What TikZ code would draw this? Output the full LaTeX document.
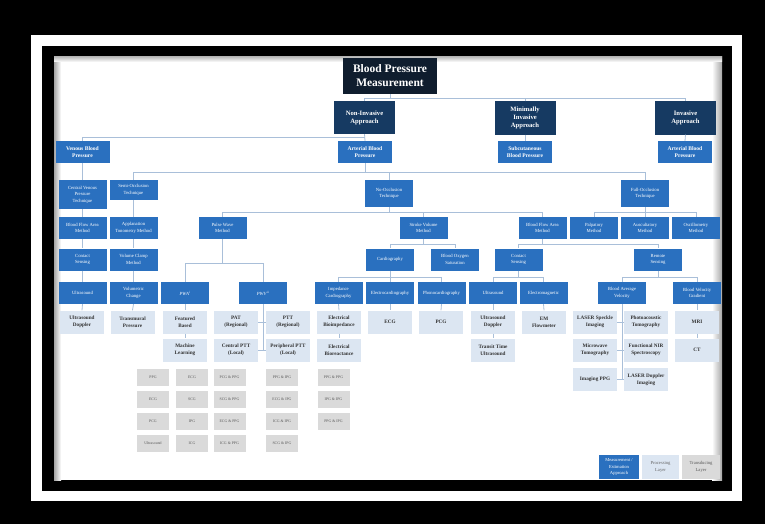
\documentclass[tikz,border=0pt]{standalone}
\usepackage{fontspec}
\setmainfont{Liberation Serif}
\definecolor{navy}{HTML}{163A62}
\definecolor{darknavy}{HTML}{0F1D2E}
\definecolor{midblue}{HTML}{2A70BF}
\definecolor{paleblue}{HTML}{DCE6F2}
\definecolor{palegray}{HTML}{DADADA}
\definecolor{linecol}{HTML}{A9BFD9}
\begin{document}
\begin{tikzpicture}[x=1pt,y=-1pt,
  titlebox/.style={fill=darknavy,text=white,align=center,inner sep=0pt,
    minimum width=94pt,minimum height=36pt,font=\bfseries\fontsize{11.5}{14}\selectfont},
  appbox/.style={fill=navy,text=white,align=center,inner sep=0pt,
    minimum width=61pt,minimum height=33pt,font=\bfseries\fontsize{6.6}{8}\selectfont},
  bpbox/.style={fill=midblue,text=white,align=center,inner sep=0pt,
    minimum width=54pt,minimum height=22pt,font=\bfseries\fontsize{5.6}{7}\selectfont},
  box/.style={fill=midblue,text=white,align=center,inner sep=0pt,
    minimum width=48pt,minimum height=22pt,font=\fontsize{4.7}{6.6}\selectfont},
  tallbox/.style={box,minimum height=29pt},
  procbox/.style={fill=paleblue,text=black!80,align=center,inner sep=0pt,
    minimum width=44pt,minimum height=23pt,font=\bfseries\fontsize{5.2}{6.8}\selectfont},
  transbox/.style={fill=palegray,text=black!65,align=center,inner sep=0pt,
    minimum width=32pt,minimum height=17pt,font=\fontsize{3.9}{5}\selectfont},
  ln/.style={draw=linecol,line width=0.8pt}]
% frame
\fill[black] (0,0) rectangle (765,524);
\fill[white] (31,35) rectangle (742,501);
\fill[black] (42,46) rectangle (732,491);
\fill[white] (54,57) rectangle (722,480);
\shade[left color=black!35,right color=white] (54,57) rectangle (61,480);
\shade[left color=white,right color=black!35] (712,57) rectangle (722,480);
\shade[top color=black!25,bottom color=white] (54,57) rectangle (722,62);

% title and approaches
\node[titlebox] (bpm) at (390,76) {Blood Pressure\\Measurement};
\node[appbox] (nia) at (364.5,117.5) {Non-Invasive\\Approach};
\node[appbox] (mia) at (525,118) {Minimally\\Invasive\\Approach};
\node[appbox] (ia) at (685.5,118) {Invasive\\Approach};

% blood pressure kinds
\node[bpbox] (vbp) at (82.5,152) {Venous Blood\\Pressure};
\node[bpbox] (abp) at (365,152) {Arterial Blood\\Pressure};
\node[bpbox] (sbp) at (525,152) {Subcutaneous\\Blood Pressure};
\node[bpbox] (abp2) at (685,152) {Arterial Blood\\Pressure};

% techniques
\node[tallbox] (cvp) at (82.5,194.5) {Central Venous\\Pressure\\Technique};
\node[box,minimum height=20pt] (soc) at (133.5,190) {Semi-Occlusion\\Technique};
\node[box,minimum height=27pt] (noc) at (389,193.5) {No-Occlusion\\Technique};
\node[box,minimum height=27pt] (foc) at (645,193.5) {Full-Occlusion\\Technique};

% methods
\node[box] (bfa) at (82.5,228) {Blood Flow Area\\Method};
\node[box] (atm) at (133.5,228) {Applanation\\Tonometry Method};
\node[box] (pwm) at (222.5,228) {Pulse Wave\\Method};
\node[box] (svm) at (423.5,228) {Stroke Volume\\Method};
\node[box] (bfa2) at (542.5,228) {Blood Flow Area\\Method};
\node[box] (pal) at (594,228) {Palpatory\\Method};
\node[box] (aus) at (645,228) {Auscultatory\\Method};
\node[box] (osc) at (696,228) {Oscillometry\\Method};

% sensing
\node[box] (cs) at (82.5,259.5) {Contact\\Sensing};
\node[box] (vcm) at (133.5,259.5) {Volume Clamp\\Method};
\node[box] (car) at (390,259.5) {Cardiography};
\node[box] (bos) at (455,259.5) {Blood Oxygen\\Saturation};
\node[box] (cs2) at (518.5,259.5) {Contact\\Sensing};
\node[box] (rs) at (658,259.5) {Remote\\Sensing};

% measured quantity
\node[box] (us) at (82.5,293) {Ultrasound};
\node[box] (vch) at (133.5,293) {Volumetric\\Change};
\node[box] (pwa) at (185,293) {\textit{PWA}\textsuperscript{i}};
\node[box] (pwv) at (263,293) {\textit{PWV}\textsuperscript{ii}};
\node[box] (icg) at (338.5,293) {Impedance\\Cardiography};
\node[box] (ecgr) at (390,293) {Electrocardiography};
\node[box] (pcgr) at (441.5,293) {Phonocardiography};
\node[box] (us2) at (493,293) {Ultrasound};
\node[box] (emg) at (543.5,293) {Electromagnetic};
\node[box] (bav) at (622,293) {Blood Average\\Velocity};
\node[box] (bvg) at (697,293) {Blood Velocity\\Gradient};

% processing layer
\node[procbox] (usd) at (82,322) {Ultrasound\\Doppler};
\node[procbox] (tmp) at (132.5,322) {Transmural\\Pressure};
\node[procbox] (fb) at (185,322) {Featured\\Based};
\node[procbox] (ml) at (185,350) {Machine\\Learning};
\node[procbox] (pat) at (236,322) {PAT\\(Regional)};
\node[procbox] (ptt) at (288,322) {PTT\\(Regional)};
\node[procbox] (cptt) at (236,350) {Central PTT\\(Local)};
\node[procbox] (pptt) at (288,350) {Peripheral PTT\\(Local)};
\node[procbox] (ebi) at (339,322) {Electrical\\Bioimpedance};
\node[procbox] (ebr) at (339,350) {Electrical\\Bioreactance};
\node[procbox] (ecg) at (390,322) {ECG};
\node[procbox] (pcg) at (441,322) {PCG};
\node[procbox] (usd2) at (493,322) {Ultrasound\\Doppler};
\node[procbox] (ttu) at (493,350) {Transit Time\\Ultrasound};
\node[procbox] (emf) at (544,322) {EM\\Flowmeter};
\node[procbox] (lsi) at (595,322) {LASER Speckle\\Imaging};
\node[procbox] (mwt) at (595,350) {Microwave\\Tomography};
\node[procbox] (ippg) at (595,379.5) {Imaging PPG};
\node[procbox] (pact) at (646,322) {Photoacoustic\\Tomography};
\node[procbox] (fnir) at (646,350) {Functional NIR\\Spectroscopy};
\node[procbox] (ldi) at (646,379.5) {LASER Doppler\\Imaging};
\node[procbox] (mri) at (697,322) {MRI};
\node[procbox] (ct) at (697,350) {CT};

% transducing layer
\node[transbox] (ta1) at (153,377.5) {PPG};
\node[transbox] (ta2) at (153,399.5) {ECG};
\node[transbox] (ta3) at (153,421.5) {PCG};
\node[transbox] (ta4) at (153,443) {Ultrasound};
\node[transbox] (tb1) at (192,377.5) {ECG};
\node[transbox] (tb2) at (192,399.5) {SCG};
\node[transbox] (tb3) at (192,421.5) {IPG};
\node[transbox] (tb4) at (192,443) {ICG};
\node[transbox] (tc1) at (229.5,377.5) {PCG \& PPG};
\node[transbox] (tc2) at (229.5,399.5) {SCG \& PPG};
\node[transbox] (tc3) at (229.5,421.5) {ECG \& PPG};
\node[transbox] (tc4) at (229.5,443) {ICG \& PPG};
\node[transbox] (td1) at (282,377.5) {PPG \& IPG};
\node[transbox] (td2) at (282,399.5) {ECG \& IPG};
\node[transbox] (td3) at (282,421.5) {ICG \& IPG};
\node[transbox] (td4) at (282,443) {SCG \& IPG};
\node[transbox] (te1) at (333.5,377.5) {PPG \& PPG};
\node[transbox] (te2) at (333.5,399.5) {IPG \& IPG};
\node[transbox] (te3) at (333.5,421.5) {PPG \& IPG};

% legend
\node[box,minimum width=40pt,minimum height=24pt,font=\fontsize{4.6}{6.4}\selectfont] (lgm) at (619,467) {Measurement /\\Estimation\\Approach};
\node[procbox,minimum width=37pt,minimum height=24pt,font=\fontsize{4.6}{6.4}\selectfont,text=black!60] (lgp) at (660.5,467) {Processing\\Layer};
\node[transbox,minimum width=38pt,minimum height=24pt,font=\fontsize{4.6}{6.4}\selectfont] (lgt) at (701,467) {Transducing\\Layer};

% connectors
\draw[ln] (bpm.south) -- (bpm.south |- 0,98);
\draw[ln] (nia.north) -- (nia.north |- 0,98) -- (ia.north |- 0,98) -- (ia.north);
\draw[ln] (mia.north) -- (mia.north |- 0,98);
\draw[ln] (nia.south) -- (abp.north);
\draw[ln] (nia.south |- 0,137) -| (vbp.north);
\draw[ln] (mia.south) -- (sbp.north);
\draw[ln] (ia.south) -- (abp2.north);
\draw[ln] (vbp.south) -- (cvp.north);
\draw[ln] (abp.south) -- (abp.south |- 0,172) -| (soc.north);
\draw[ln] (abp.south |- 0,172) -| (noc.north);
\draw[ln] (abp.south |- 0,172) -| (foc.north);
\draw[ln] (cvp.south) -- (bfa.north);
\draw[ln] (soc.south) -- (atm.north);
\draw[ln] (noc.south) -- (noc.south |- 0,212) -| (pwm.north);
\draw[ln] (noc.south |- 0,212) -| (svm.north);
\draw[ln] (noc.south |- 0,212) -| (bfa2.north);
\draw[ln] (foc.south) -- (foc.south |- 0,212) -| (pal.north);
\draw[ln] (foc.south) -- (aus.north);
\draw[ln] (foc.south |- 0,212) -| (osc.north);
\draw[ln] (bfa.south) -- (cs.north);
\draw[ln] (atm.south) -- (vcm.north);
\draw[ln] (svm.south) -- (svm.south |- 0,244) -| (car.north);
\draw[ln] (svm.south |- 0,244) -| (bos.north);
\draw[ln] (bfa2.south) -- (bfa2.south |- 0,244) -| (cs2.north);
\draw[ln] (bfa2.south |- 0,244) -| (rs.north);
\draw[ln] (cs.south) -- (us.north);
\draw[ln] (vcm.south) -- (vch.north);
\draw[ln] (pwm.south) -- (pwm.south |- 0,263) -| (pwa.north);
\draw[ln] (pwm.south |- 0,263) -| (pwv.north);
\draw[ln] (car.south) -- (ecgr.north);
\draw[ln] (car.south |- 0,277) -| (icg.north);
\draw[ln] (car.south |- 0,277) -| (pcgr.north);
\draw[ln] (cs2.south) -- (cs2.south |- 0,277) -| (us2.north);
\draw[ln] (cs2.south |- 0,277) -| (emg.north);
\draw[ln] (rs.south) -- (rs.south |- 0,277) -| (bav.north);
\draw[ln] (rs.south |- 0,277) -| (bvg.north);
\draw[ln] (us.south) -- (usd.north);
\draw[ln] (vch.south) -- (tmp.north);
\draw[ln] (pwa.south) -- (fb.north);
\draw[ln] (fb.south) -- (ml.north);
\draw[ln] (pwv.south) -- (pwv.south |- 0,350);
\draw[ln] (pat.east) -- (ptt.west);
\draw[ln] (cptt.east) -- (pptt.west);
\draw[ln] (icg.south) -- (ebi.north);
\draw[ln] (ebi.south) -- (ebr.north);
\draw[ln] (ecgr.south) -- (ecg.north);
\draw[ln] (pcgr.south) -- (pcg.north);
\draw[ln] (us2.south) -- (usd2.north);
\draw[ln] (usd2.south) -- (ttu.north);
\draw[ln] (emg.south) -- (emf.north);
\draw[ln] (bav.south) -- (bav.south |- 0,379.5);
\draw[ln] (lsi.east) -- (pact.west);
\draw[ln] (mwt.east) -- (fnir.west);
\draw[ln] (ippg.east) -- (ldi.west);
\draw[ln] (bvg.south) -- (mri.north);
\draw[ln] (mri.south) -- (ct.north);
\end{tikzpicture}
\end{document}
